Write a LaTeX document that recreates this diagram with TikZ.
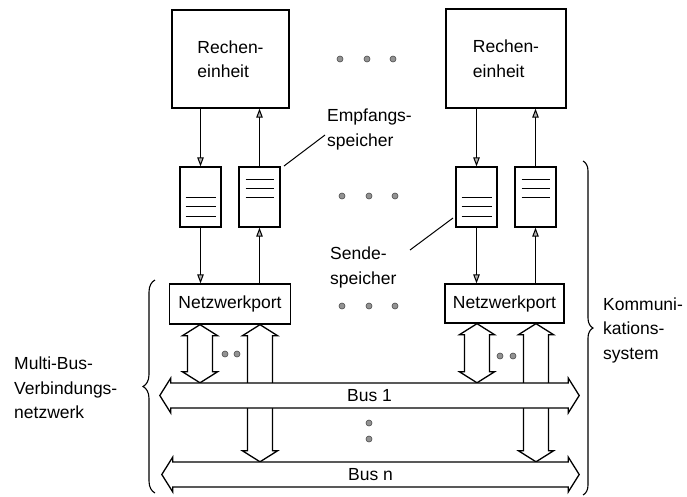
\documentclass[tikz,border=0pt]{standalone}
\usepackage{fontspec}
\setmainfont{Liberation Sans}
\usetikzlibrary{arrows.meta,calc,backgrounds,decorations.pathreplacing}

\begin{document}
\begin{tikzpicture}[x=1pt,y=-1pt,
  font=\fontsize{17.5}{24.5}\selectfont,
  every node/.style={inner sep=0pt},
  unitbox/.style={draw,line width=1.3pt,minimum width=117pt,minimum height=98pt,align=left},
  membox/.style={draw,line width=1.3pt,minimum width=41pt,minimum height=60pt},
  sendebox/.style={membox,path picture={
      \foreach \d in {0,9.5,19}
        \draw[line width=1pt] ([shift={(-15pt,-\d pt)}]path picture bounding box.center) -- ++(30pt,0pt);}},
  empfbox/.style={membox,path picture={
      \foreach \d in {-18,-9,0}
        \draw[line width=1pt] ([shift={(-14pt,-\d pt)}]path picture bounding box.center) -- ++(28pt,0pt);}},
  portbox/.style={draw,line width=1.3pt,minimum width=121pt,minimum height=40pt},
  busshaft/.style={minimum height=25pt},
  thinarr/.style={line width=1pt,-{Triangle[length=9pt,width=6.5pt,fill=gray!60]}},
  leader/.style={line width=1pt},
  dotm/.style={circle,fill=gray!85,draw=gray!60!black,line width=0.6pt,minimum size=6pt},
  lbl/.style={align=left,anchor=west},
  fatv/.style={draw,fill=white,line width=1.3pt,
    to path={let \p1=(\tikztostart),\p2=(\tikztotarget) in
      (\x1,\y1) -- ({\x1+17.5pt},{\y1-11pt}) -- ({\x1+12.5pt},{\y1-11pt})
      -- ({\x1+12.5pt},{\y2+11pt}) -- ({\x1+17.5pt},{\y2+11pt}) -- (\x1,\y2)
      -- ({\x1-17.5pt},{\y2+11pt}) -- ({\x1-12.5pt},{\y2+11pt})
      -- ({\x1-12.5pt},{\y1-11pt}) -- ({\x1-17.5pt},{\y1-11pt}) -- cycle}},
  bush/.style={draw,fill=white,line width=1.3pt,
    to path={let \p1=(\tikztostart),\p2=(\tikztotarget) in
      ({\x1-11pt},\y1) -- (\x1,{\y1+17.5pt}) -- (\x1,{\y1+12.5pt})
      -- (\x2,{\y2+12.5pt}) -- (\x2,{\y2+17.5pt}) -- ({\x2+11pt},\y2)
      -- (\x2,{\y2-17.5pt}) -- (\x2,{\y2-12.5pt})
      -- (\x1,{\y1-12.5pt}) -- (\x1,{\y1-17.5pt}) -- cycle}},
  bracedeco/.style={decorate,line width=1.1pt,decoration={brace,amplitude=#1}}
]
\useasboundingbox (0,0) rectangle (687,496);

% processing units
\node[unitbox] (re1) at (230.5,59) {Rechen-\\einheit};
\node[unitbox,minimum width=120pt,minimum height=99pt] (re2) at (506,58.5) {Rechen-\\einheit};

% send and receive buffers
\node[sendebox] (se1) at (200.5,197) {};
\node[empfbox]  (em1) at (259.5,197) {};
\node[sendebox] (se2) at (476.5,197) {};
\node[empfbox]  (em2) at (535.5,197) {};

% network ports
\node[portbox] (np1) at (230,304) {Netzwerkport};
\node[portbox,minimum width=119pt,minimum height=39pt] (np2) at (504.5,303.5) {Netzwerkport};

% bus labels (the bus outlines are drawn on the background layer)
\node[busshaft,minimum width=397pt] (bus1) at (369.5,395.5) {Bus 1};
\node[busshaft,minimum width=395pt] (bus2) at (370.5,474.5) {Bus n};

% thin data paths
\foreach \g in {1,2} {
  \draw[thinarr] (se\g.north |- re\g.south) -- (se\g.north);
  \draw[thinarr] (em\g.north) -- (em\g.north |- re\g.south);
  \draw[thinarr] (se\g.south) -- (se\g.south |- np\g.north);
  \draw[thinarr] (em\g.south |- np\g.north) -- (em\g.south);
}

% port connection points
\coordinate (p1a) at ([xshift=-30pt]np1.south);
\coordinate (p1b) at ([xshift=30pt]np1.south);
\coordinate (p2a) at ([xshift=-27.5pt]np2.south);
\coordinate (p2b) at ([xshift=31.5pt]np2.south);

\begin{scope}[on background layer]
  \fill[white] (0,0) rectangle (687,496);
  % port-to-bus links
  \draw[fatv] (p1b) to (p1b |- bus2.north);
  \draw[fatv] (p2b) to (p2b |- bus2.north);
  \draw[fatv] (p1a) to (p1a |- bus1.north);
  \draw[fatv] (p2a) to (p2a |- bus1.north);
  % buses
  \draw[bush] (bus1.west) to (bus1.east);
  \draw[bush] (bus2.west) to (bus2.east);
\end{scope}

% ellipsis dots
\foreach \x [count=\i] in {340,367,393} {
  \node[dotm] (dta\i) at (\x,59) {};
  \node[dotm] (dtb\i) at (\x+2,196) {};
  \node[dotm] (dtc\i) at (\x+2,306) {};
}
\node[dotm] (dp1) at (225,354) {};
\node[dotm] (dp2) at (237,354) {};
\node[dotm] (dq1) at (500,356) {};
\node[dotm] (dq2) at (513,356) {};
\node[dotm] (dv1) at (369,423) {};
\node[dotm] (dv2) at (369,439) {};

% buffer labels with leader lines
\node[lbl] (emlab) at (327,129.5) {Empfangs-\\speicher};
\node[lbl] (selab) at (330,267.5) {Sende-\\speicher};
\coordinate (ema) at (325,135);
\coordinate (emb) at (284,166);
\coordinate (sea) at (410,250);
\coordinate (seb) at (453,218);
\draw[leader] (ema) -- (emb);
\draw[leader] (sea) -- (seb);

% group labels and braces
\node[lbl] (komm) at (603,330) {Kommuni-\\kations-\\system};
\node[lbl] (mbus) at (14,388) {Multi-Bus-\\Verbindungs-\\netzwerk};
\draw[bracedeco=12pt] (155,493) -- (155,280);
\draw[bracedeco=10pt] (583,161) -- (583,495);
\end{tikzpicture}
\end{document}
